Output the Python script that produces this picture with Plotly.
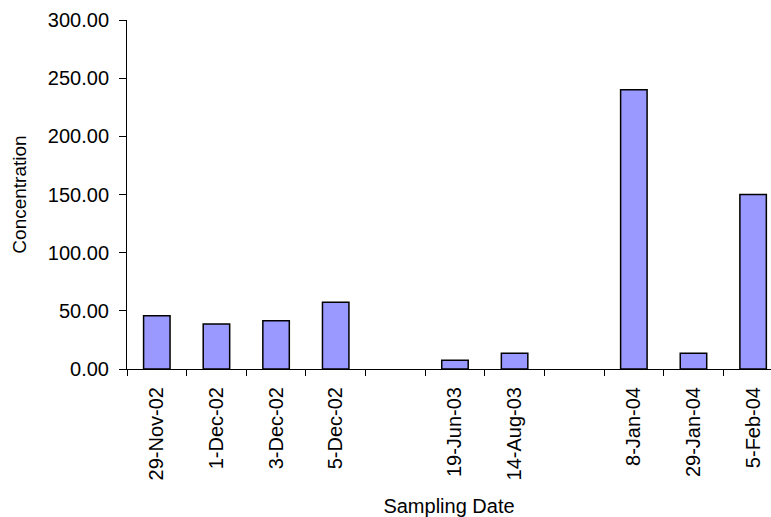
import plotly.graph_objects as go

# Sampling dates; blank slots keep the gaps between campaigns
dates = ["29-Nov-02", "1-Dec-02", "3-Dec-02", "5-Dec-02", "",
         "19-Jun-03", "14-Aug-03", "",
         "8-Jan-04", "29-Jan-04", "5-Feb-04"]
concentration = [45.8, 38.7, 41.5, 57.3, None, 7.5, 13.5, None, 240.0, 13.5, 150.0]
y_ticks = [0, 50, 100, 150, 200, 250, 300]

FONT = "Arial, Liberation Sans, sans-serif"
X_RANGE = [-0.5, 10.3]
slots = list(range(len(dates)))
# tick marks go on the boundaries between slots
boundaries = [s - 0.5 for s in slots]

fig = go.Figure()
fig.add_trace(
    go.Bar(
        x=slots,
        y=concentration,
        marker=dict(color="#9999FF", line=dict(color="black", width=1.5)),
        xaxis="x",
        yaxis="y",
    )
)
# transparent companion trace so the label axis is drawn
fig.add_trace(
    go.Scatter(
        x=slots,
        y=concentration,
        mode="markers",
        marker=dict(opacity=0),
        hoverinfo="skip",
        xaxis="x2",
        yaxis="y",
    )
)

fig.update_layout(
    width=771,
    height=517,
    margin=dict(l=127, r=0, t=20, b=148),
    paper_bgcolor="white",
    plot_bgcolor="white",
    bargap=0.556,
    showlegend=False,
    font=dict(family=FONT, size=20, color="black"),
    # axis line and boundary ticks
    xaxis=dict(
        range=X_RANGE,
        tickmode="array",
        tickvals=boundaries,
        showticklabels=False,
        ticks="outside",
        ticklen=6,
        tickcolor="black",
        tickwidth=1,
        showline=True,
        linecolor="black",
        linewidth=1,
        showgrid=False,
        zeroline=False,
    ),
    # date labels centred on each slot
    xaxis2=dict(
        overlaying="x",
        anchor="y",
        side="bottom",
        range=X_RANGE,
        tickmode="array",
        tickvals=slots,
        ticktext=dates,
        ticks="",
        tickangle=-90,
        tickfont=dict(family=FONT, size=20),
        ticklabelstandoff=13,
        showline=False,
        showgrid=False,
        zeroline=False,
        title=dict(text="Sampling Date", font=dict(family=FONT, size=20), standoff=21),
    ),
    yaxis=dict(
        range=[0, 300],
        tickvals=y_ticks,
        tickformat=".2f",
        ticks="outside",
        ticklen=7,
        tickcolor="black",
        tickfont=dict(family=FONT, size=20),
        ticklabelstandoff=6,
        showline=True,
        linecolor="black",
        linewidth=1,
        showgrid=False,
        zeroline=False,
        title=dict(text="Concentration", font=dict(family=FONT, size=19), standoff=16),
    ),
)

fig.write_html("out.html")
